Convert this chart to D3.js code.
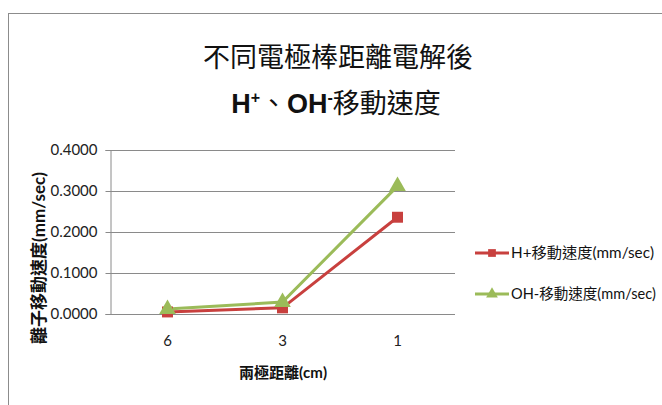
<!DOCTYPE html>
<html><head><meta charset="utf-8">
<script src="https://cdn.jsdelivr.net/npm/d3@7"></script>
<style>body{margin:0;background:#fff}svg{display:block}</style>
</head><body>
<script>
const categories = ["6", "3", "1"];
const hPlus = [0.005, 0.015, 0.236];
const ohMinus = [0.012, 0.029, 0.312];
const yTicks = [0, 0.1, 0.2, 0.3, 0.4];
const seriesNames = ["H+移動速度(mm/sec)", "OH-移動速度(mm/sec)"];
const colors = ["#C8403E", "#9BBB59"];

const W = 662, H = 405;
const svg = d3.select("body").append("svg").attr("width", W).attr("height", H);
const font = "Lato, 'Noto Sans CJK TC', sans-serif";

svg.append("rect").attr("x", 8.5).attr("y", 13.5).attr("width", 700).attr("height", 450)
  .attr("fill", "#fff").attr("stroke", "#8c8c8c").attr("stroke-width", 1);

const m = {l: 110, r: 455, t: 150, b: 314};
const x = d3.scaleBand().domain(categories).range([m.l, m.r]);
const y = d3.scaleLinear().domain([0, 0.4]).range([m.b, m.t]);

// gridlines
svg.append("g").selectAll("line").data(yTicks).join("line")
  .attr("x1", m.l).attr("x2", m.r).attr("y1", d => y(d) + 0.5).attr("y2", d => y(d) + 0.5)
  .attr("stroke", "#8a8a8a").attr("stroke-width", 1);

// y axis
const yAxis = svg.append("g").attr("transform", `translate(${m.l + 0.5},0)`)
  .call(d3.axisLeft(y).tickValues(yTicks).tickFormat(d3.format(".4f")).tickSize(5).tickPadding(8));
yAxis.select(".domain").attr("stroke", "#8a8a8a");
yAxis.selectAll(".tick line").attr("stroke", "#8a8a8a");
yAxis.selectAll("text").attr("font-family", font).attr("font-size", 15).attr("fill", "#222");

// x axis (labels only)
const xAxis = svg.append("g").attr("transform", `translate(0,${m.b + 0.5})`)
  .call(d3.axisBottom(x).tickSize(0).tickPadding(21));
xAxis.select(".domain").remove();
xAxis.selectAll("text").attr("font-family", font).attr("font-size", 15).attr("fill", "#222");

// lines
const series = [hPlus, ohMinus];
const line = d3.line().x((d, i) => x(categories[i]) + x.bandwidth() / 2).y(d => y(d));
series.forEach((s, k) => {
  svg.append("path").datum(s).attr("d", line).attr("fill", "none")
    .attr("stroke", colors[k]).attr("stroke-width", 3);
});
// markers
const sq = d3.symbol().type(d3.symbolSquare).size(120);
const tri = d3.symbol().type(d3.symbolTriangle).size(120);
series.forEach((s, k) => {
  svg.append("g").selectAll("path").data(s).join("path")
    .attr("d", k === 0 ? sq : tri)
    .attr("transform", (d, i) => `translate(${x(categories[i]) + x.bandwidth() / 2},${y(d)})`)
    .attr("fill", colors[k]);
});

// titles
svg.append("text").attr("x", 338).attr("y", 67).attr("text-anchor", "middle")
  .attr("font-family", font).attr("font-size", 27).attr("fill", "#111")
  .text("不同電極棒距離電解後");
const t2 = svg.append("text").attr("x", 336).attr("y", 113).attr("text-anchor", "middle")
  .attr("font-family", "'Liberation Sans', 'Noto Sans CJK TC', sans-serif").attr("font-size", 27).attr("fill", "#111");
t2.append("tspan").attr("font-weight", "bold").text("H");
t2.append("tspan").attr("font-weight", "bold").attr("font-size", 16).attr("dy", -10).text("+");
t2.append("tspan").attr("dy", 10).text("、");
t2.append("tspan").attr("font-weight", "bold").text("OH");
t2.append("tspan").attr("font-weight", "bold").attr("font-size", 16).attr("dy", -10).text("-");
t2.append("tspan").attr("dy", 10).text("移動速度");

// axis titles
svg.append("text").attr("transform", "translate(45,258) rotate(-90)").attr("text-anchor", "middle")
  .attr("font-family", font).attr("font-size", 17).attr("font-weight", "bold").attr("fill", "#111")
  .text("離子移動速度(mm/sec)");
svg.append("text").attr("x", 283).attr("y", 378).attr("text-anchor", "middle")
  .attr("font-family", font).attr("font-size", 15).attr("font-weight", "bold").attr("fill", "#111")
  .text("兩極距離(cm)");

// legend
const leg = svg.append("g");
seriesNames.forEach((n, k) => {
  const ly = 253 + k * 41;
  leg.append("line").attr("x1", 475).attr("x2", 509).attr("y1", ly).attr("y2", ly)
    .attr("stroke", colors[k]).attr("stroke-width", 3);
  leg.append("path").attr("d", k === 0 ? d3.symbol().type(d3.symbolSquare).size(60)() : d3.symbol().type(d3.symbolTriangle).size(60)())
    .attr("transform", `translate(492,${ly})`).attr("fill", colors[k]);
  leg.append("text").attr("x", 511).attr("y", ly + 5).attr("font-family", font).attr("font-size", 14.5)
    .attr("textLength", k === 0 ? 143 : 145).attr("lengthAdjust", "spacingAndGlyphs")
    .attr("fill", "#111").text(n);
});
</script>
</body></html>
